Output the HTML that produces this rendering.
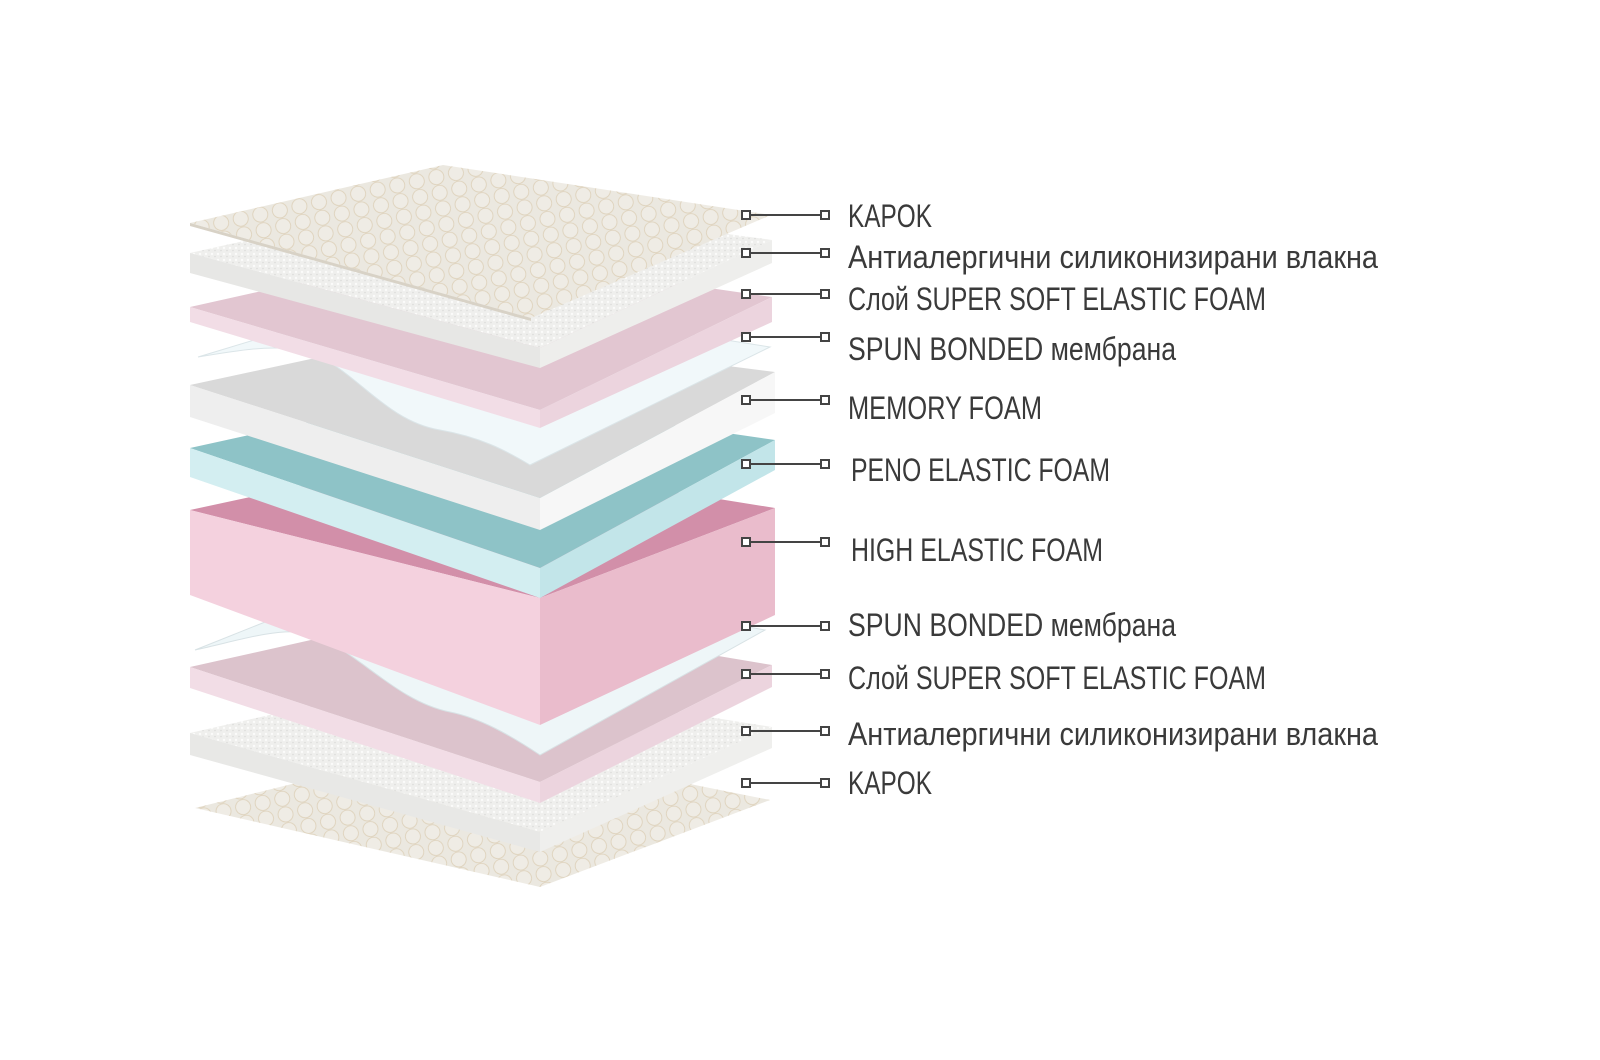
<!DOCTYPE html>
<html><head><meta charset="utf-8"><style>
html,body{margin:0;padding:0;background:#fff;}
svg{display:block}
text{font-family:"Liberation Sans Narrow","Liberation Sans","DejaVu Sans Condensed",sans-serif;fill:#3a3a3a;font-size:32px;}
</style></head><body>
<svg width="1600" height="1060" viewBox="0 0 1600 1060" xmlns="http://www.w3.org/2000/svg">
<defs>
<pattern id="kp" width="20" height="16" patternUnits="userSpaceOnUse" patternTransform="rotate(-12)">
<rect width="20" height="16" fill="#ebe8e0"/>
<circle cx="10" cy="8" r="7.5" fill="#efece5" stroke="#ddd0b8" stroke-width="0.8"/>
</pattern>
<pattern id="fb" width="6" height="6" patternUnits="userSpaceOnUse">
<rect width="6" height="6" fill="#efefed"/>
<circle cx="2" cy="2" r="1.2" fill="#fbfbfa"/>
<circle cx="5" cy="4.5" r="0.8" fill="#dcdcda"/>
</pattern>
</defs>

<!-- bottom KAPOK -->
<polygon points="195,808 470,740 770,800 540,887" fill="url(#kp)"/>
<!-- bottom fiber -->
<polygon points="190,733 445,675 772,727 540,832" fill="url(#fb)"/>
<polygon points="190,733 540,832 540,852 190,755" fill="#e8e8e6"/>
<polygon points="540,832 772,727 772,748 540,852" fill="#efefed"/>
<!-- bottom pink SSEF -->
<polygon points="190,667 445,610 772,665 540,782" fill="#dcc3cc"/>
<polygon points="190,667 540,782 540,803 190,688" fill="#f2dde6"/>
<polygon points="540,782 772,665 772,687 540,803" fill="#ecd4de"/>
<!-- bottom spun sheet -->
<path d="M195,650 C240,640 270,630 300,632 C350,640 390,700 450,712 C480,718 510,735 540,755 L765,630 L600,600 L320,600 Z" fill="#eef6f8" stroke="#d8e2e5" stroke-width="1"/>
<!-- big pink block -->
<polygon points="190,510 445,455 775,508 540,598" fill="#d28fa9"/>
<polygon points="190,510 540,598 540,725 190,595" fill="#f4d1de"/>
<polygon points="540,598 775,508 775,615 540,725" fill="#eabccc"/>
<!-- teal -->
<polygon points="190,448 445,392 775,440 540,568" fill="#8ec3c7"/>
<polygon points="190,448 540,568 540,598 190,477" fill="#d3eef1"/>
<polygon points="540,568 775,440 775,470 540,598" fill="#c2e5e9"/>
<!-- memory foam -->
<polygon points="190,385 445,330 775,372 540,498" fill="#d9d9d9"/>
<polygon points="190,385 540,498 540,530 190,417" fill="#eeeeee"/>
<polygon points="540,498 775,372 775,413 540,530" fill="#f7f7f7"/>
<!-- spun sheet top -->
<path d="M198,357 C240,350 270,345 300,350 C350,360 380,420 440,430 C480,437 505,450 530,465 L770,347 L600,320 L320,320 Z" fill="#f1f8fa" stroke="#dbe5e8" stroke-width="1"/>
<!-- pink SSEF top -->
<polygon points="190,307 445,250 772,297 540,410" fill="#e2c6d1"/>
<polygon points="190,307 540,410 540,428 190,322" fill="#f2dde6"/>
<polygon points="540,410 772,297 772,322 540,428" fill="#ecd4de"/>
<!-- fiber top -->
<polygon points="190,253 445,196 772,240 540,348" fill="url(#fb)"/>
<polygon points="190,253 540,348 540,368 190,273" fill="#e7e7e5"/>
<polygon points="540,348 772,240 772,263 540,368" fill="#eeeeec"/>
<!-- KAPOK top -->
<polygon points="190,223 443,165 771,215 531,318" fill="url(#kp)"/>
<polygon points="190,223 531,318 531,321 190,226" fill="#d8d2c6"/>

<!-- connectors -->
<g stroke="#444" stroke-width="2" fill="#fff">
<g transform="translate(0,215)"><line x1="750" y1="0" x2="821" y2="0"/><rect x="742" y="-4" width="8" height="8"/><rect x="821" y="-4" width="8" height="8"/></g>
<g transform="translate(0,253)"><line x1="750" y1="0" x2="821" y2="0"/><rect x="742" y="-4" width="8" height="8"/><rect x="821" y="-4" width="8" height="8"/></g>
<g transform="translate(0,294)"><line x1="750" y1="0" x2="821" y2="0"/><rect x="742" y="-4" width="8" height="8"/><rect x="821" y="-4" width="8" height="8"/></g>
<g transform="translate(0,337)"><line x1="750" y1="0" x2="821" y2="0"/><rect x="742" y="-4" width="8" height="8"/><rect x="821" y="-4" width="8" height="8"/></g>
<g transform="translate(0,400)"><line x1="750" y1="0" x2="821" y2="0"/><rect x="742" y="-4" width="8" height="8"/><rect x="821" y="-4" width="8" height="8"/></g>
<g transform="translate(0,464)"><line x1="750" y1="0" x2="821" y2="0"/><rect x="742" y="-4" width="8" height="8"/><rect x="821" y="-4" width="8" height="8"/></g>
<g transform="translate(0,542)"><line x1="750" y1="0" x2="821" y2="0"/><rect x="742" y="-4" width="8" height="8"/><rect x="821" y="-4" width="8" height="8"/></g>
<g transform="translate(0,626)"><line x1="750" y1="0" x2="821" y2="0"/><rect x="742" y="-4" width="8" height="8"/><rect x="821" y="-4" width="8" height="8"/></g>
<g transform="translate(0,674)"><line x1="750" y1="0" x2="821" y2="0"/><rect x="742" y="-4" width="8" height="8"/><rect x="821" y="-4" width="8" height="8"/></g>
<g transform="translate(0,731)"><line x1="750" y1="0" x2="821" y2="0"/><rect x="742" y="-4" width="8" height="8"/><rect x="821" y="-4" width="8" height="8"/></g>
<g transform="translate(0,783)"><line x1="750" y1="0" x2="821" y2="0"/><rect x="742" y="-4" width="8" height="8"/><rect x="821" y="-4" width="8" height="8"/></g>
</g>

<!-- labels -->
<text x="848" y="227" textLength="84" lengthAdjust="spacingAndGlyphs">KAPOK</text>
<text x="848" y="268" textLength="530" lengthAdjust="spacingAndGlyphs">Антиалергични силиконизирани влакна</text>
<text x="848" y="310" textLength="418" lengthAdjust="spacingAndGlyphs">Слой SUPER SOFT ELASTIC FOAM</text>
<text x="848" y="360" textLength="328" lengthAdjust="spacingAndGlyphs">SPUN BONDED мембрана</text>
<text x="848" y="419" textLength="194" lengthAdjust="spacingAndGlyphs">MEMORY FOAM</text>
<text x="851" y="481" textLength="259" lengthAdjust="spacingAndGlyphs">PENO ELASTIC FOAM</text>
<text x="851" y="561" textLength="252" lengthAdjust="spacingAndGlyphs">HIGH ELASTIC FOAM</text>
<text x="848" y="636" textLength="328" lengthAdjust="spacingAndGlyphs">SPUN BONDED мембрана</text>
<text x="848" y="689" textLength="418" lengthAdjust="spacingAndGlyphs">Слой SUPER SOFT ELASTIC FOAM</text>
<text x="848" y="745" textLength="530" lengthAdjust="spacingAndGlyphs">Антиалергични силиконизирани влакна</text>
<text x="848" y="794" textLength="84" lengthAdjust="spacingAndGlyphs">KAPOK</text>
</svg>
</body></html>
